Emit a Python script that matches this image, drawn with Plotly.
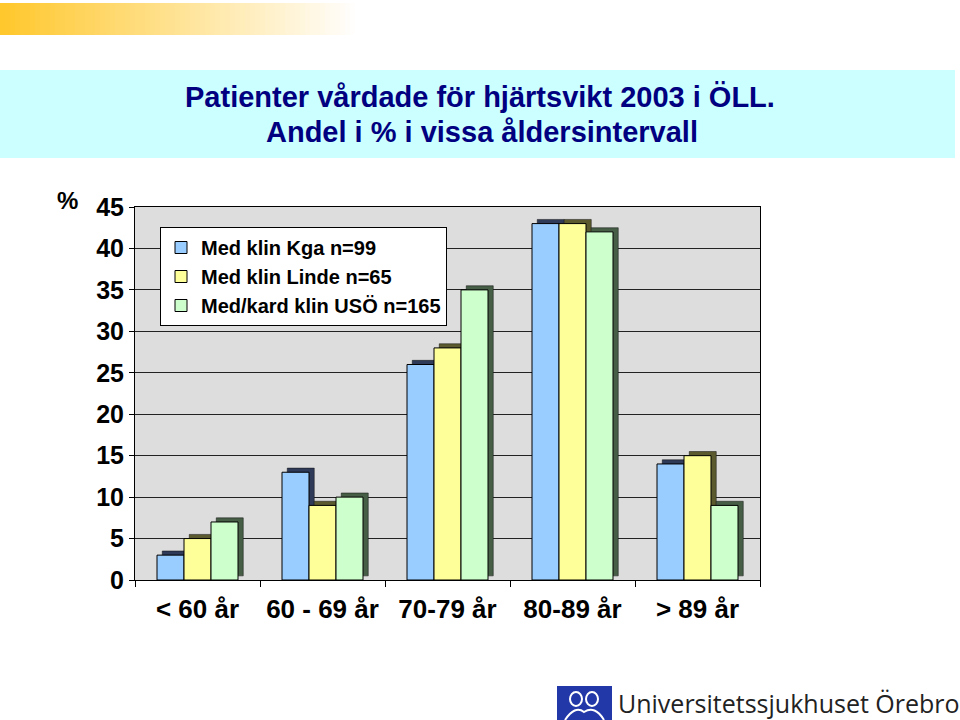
import plotly.graph_objects as go

categories = ["< 60 år", "60 - 69 år", "70-79 år", "80-89 år", "> 89 år"]
series_names = ["Med klin Kga n=99", "Med klin Linde n=65", "Med/kard klin USÖ n=165"]
kga = [3, 13, 26, 43, 14]
linde = [5, 9, 28, 43, 15]
uso = [7, 10, 35, 42, 9]
y_ticks = [0, 5, 10, 15, 20, 25, 30, 35, 40, 45]

series_values = [kga, linde, uso]
front_colors = ["#99CCFF", "#FFFF99", "#CCFFCC"]
side_colors = ["#2E3A58", "#5A5A2E", "#465E46"]

W, H = 960, 720
FONT = "Liberation Sans, Arial, sans-serif"
xpos = list(range(len(categories)))
bw = 0.216
offsets = [-0.324, -0.108, 0.108]
dx = 0.042
dy = 0.5

fig = go.Figure()
# side / top faces (pseudo-3D)
for vals, off, sc in zip(series_values, offsets, side_colors):
    fig.add_trace(go.Bar(x=xpos, y=vals, base=dy, offset=off + dx, width=bw,
                         marker=dict(color=sc, line=dict(color="#111111", width=0.5)),
                         showlegend=False, hoverinfo="skip"))
# front faces
for name, vals, off, fc in zip(series_names, series_values, offsets, front_colors):
    fig.add_trace(go.Bar(x=xpos, y=vals, name=f"<b>{name}</b>", offset=off, width=bw,
                         marker=dict(color=fc, line=dict(color="#000000", width=1))))

shapes = []
# gradient strip at top
n = 72
x_end = 360
for i in range(n):
    t = i / (n - 1)
    r, g, b = 255, int(200 + 55 * t), int(45 + 210 * t)
    shapes.append(dict(type="rect", xref="paper", yref="paper",
                       x0=(i * x_end / n) / W, x1=((i + 1) * x_end / n + 1) / W,
                       y0=1 - 35 / H, y1=1 - 3 / H,
                       fillcolor=f"rgb({r},{g},{b})", line=dict(width=0), layer="below"))
# title banner
shapes.append(dict(type="rect", xref="paper", yref="paper", x0=0, x1=955 / W,
                   y0=1 - 158 / H, y1=1 - 70 / H, fillcolor="#CCFFFF",
                   line=dict(width=0), layer="below"))
# logo block
shapes.append(dict(type="rect", xref="paper", yref="paper", x0=557 / W, x1=612 / W,
                   y0=0, y1=1 - 686 / H, fillcolor="#2338A8", line=dict(width=0)))
for cx in (576, 592):
    shapes.append(dict(type="circle", xref="paper", yref="paper",
                       x0=(cx - 6) / W, x1=(cx + 6) / W, y0=1 - 706 / H, y1=1 - 692 / H,
                       line=dict(color="white", width=2)))
shapes.append(dict(type="path", xref="paper", yref="paper",
                   path=f"M {565/W} {1-720/H} Q {575/W} {1-705/H} {584/W} {1-712/H} Q {595/W} {1-705/H} {604/W} {1-720/H}",
                   line=dict(color="white", width=2)))

annotations = [
    dict(text="<b>Patienter vårdade för hjärtsvikt 2003 i ÖLL.</b>", xref="paper", yref="paper",
         x=480 / W, y=1 - 97 / H, showarrow=False, xanchor="center", yanchor="middle",
         font=dict(family=FONT, size=29, color="#000080")),
    dict(text="<b>Andel i % i vissa åldersintervall</b>", xref="paper", yref="paper",
         x=482 / W, y=1 - 132 / H, showarrow=False, xanchor="center", yanchor="middle",
         font=dict(family=FONT, size=29, color="#000080")),
    dict(text="<b>%</b>", xref="paper", yref="paper", x=67 / W, y=1 - 200 / H,
         showarrow=False, xanchor="center", yanchor="middle",
         font=dict(family=FONT, size=24, color="#000000")),
    dict(text="Universitetssjukhuset Örebro", xref="paper", yref="paper", x=616 / W, y=1 - 703 / H,
         showarrow=False, xanchor="left", yanchor="middle",
         font=dict(family="Open Sans", size=25, color="#222222")),
]

fig.update_layout(
    width=W, height=H,
    margin=dict(l=0, r=0, t=0, b=0, autoexpand=False),
    paper_bgcolor="white",
    plot_bgcolor="#DDDDDD",
    barmode="overlay",
    shapes=shapes,
    annotations=annotations,
    legend=dict(x=160 / W, y=1 - 227 / H, xanchor="left", yanchor="top",
                bgcolor="white", bordercolor="black", borderwidth=1,
                font=dict(family=FONT, size=20, color="black"),
                traceorder="normal", tracegroupgap=0, itemwidth=30),
    xaxis=dict(domain=[135 / W, 760 / W], range=[-0.5, 4.5], automargin=False,
               tickvals=xpos, ticktext=[f"<b>{c}</b>" for c in categories],
               ticks="", showgrid=False, zeroline=False, ticklabelstandoff=6,
               showline=True, linecolor="black", linewidth=1, mirror=True,
               tickfont=dict(family=FONT, size=26, color="black"),
               minor=dict(tickvals=[-0.5, 0.5, 1.5, 2.5, 3.5, 4.5], ticks="outside",
                          ticklen=6, tickcolor="black", showgrid=False)),
    yaxis=dict(domain=[1 - 580 / H, 1 - 207 / H], range=[0, 45], automargin=False,
               tickvals=y_ticks, ticktext=[f"<b>{v}</b>" for v in y_ticks],
               ticks="outside", ticklen=5, tickcolor="black",
               showgrid=True, gridcolor="#222222", gridwidth=1, zeroline=False,
               showline=True, linecolor="black", linewidth=1, mirror=True,
               tickfont=dict(family=FONT, size=25, color="black")),
)

fig.write_html("out.html")
